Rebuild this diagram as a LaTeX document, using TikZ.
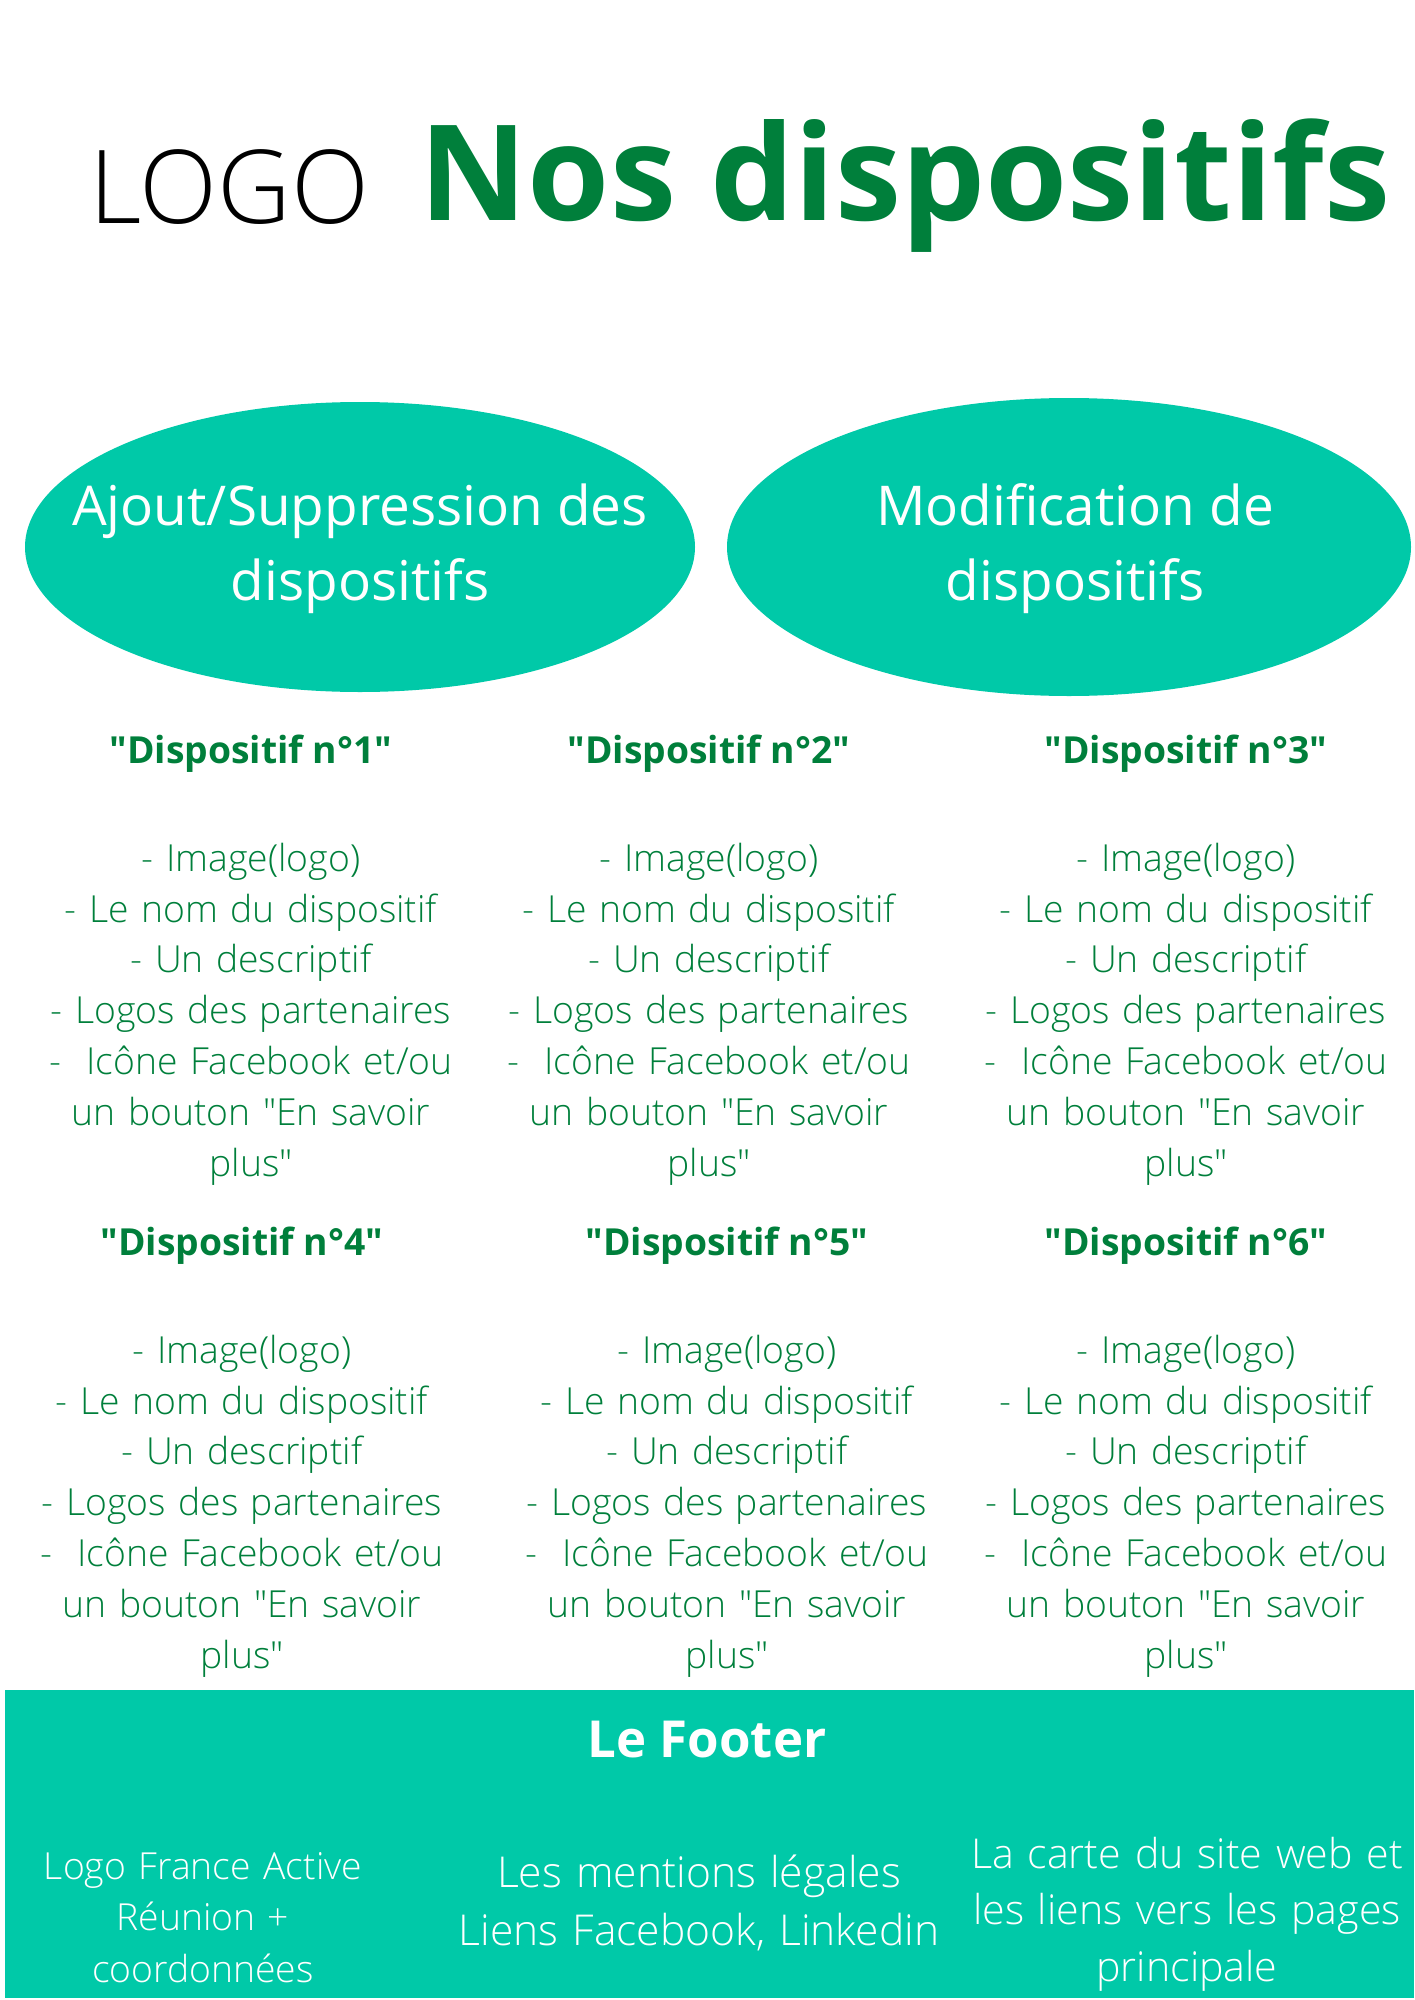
\documentclass[tikz,border=0pt]{standalone}
\usepackage{fontspec}
\setmainfont{Open Sans}
\newfontfamily\thinfont{Open Sans Light}
\definecolor{leafgreen}{RGB}{0,127,59}
\definecolor{lagoon}{RGB}{0,201,168}

\begin{document}
\begin{tikzpicture}[x=0.01cm, y=-0.01cm,
  bubbletext/.style={anchor=base, inner sep=0pt, text=white, align=center,
    font=\fontsize{15.6}{21.3}\selectfont},
  devhead/.style={anchor=base, inner sep=0pt, text=leafgreen,
    font=\bfseries\fontsize{10.6}{14.5}\selectfont},
  devlist/.style={anchor=base, inner sep=0pt, text=leafgreen, text width=5cm,
    align=center, font=\thinfont\fontsize{10.6}{14.5}\selectfont},
  footlist/.style={anchor=base, inner sep=0pt, text=white, text width=4.8cm,
    align=center, font=\thinfont\fontsize{12.1}{16.5}\selectfont}]
\useasboundingbox (0,0) rectangle (1414,2000);

% heading
\node[anchor=base west, inner sep=0pt, font=\thinfont\fontsize{29}{35}\selectfont]
  (logo) at (89,223) {LOGO};
\node[anchor=base west, inner sep=0pt, text=leafgreen,
  font=\bfseries\fontsize{37.8}{45}\selectfont] (title) at (419,220) {Nos dispositifs};

% the two actions
\fill[lagoon] (360,547) ellipse [x radius=335, y radius=145];
\fill[lagoon] (1069,547) ellipse [x radius=342, y radius=149];
\node[bubbletext] (addremove) at (360,600) {Ajout/Suppression des\\dispositifs};
\node[bubbletext] (modify) at (1075,600) {Modification de\\dispositifs};

% the six devices
\foreach \num/\cx/\hy in {1/251/763, 2/709/763, 3/1186/763,
                          4/242/1255, 5/727/1255, 6/1186/1255} {
  \node[devhead] (head\num) at (\cx,\hy) {\textquotedbl Dispositif n°\num\textquotedbl};
  \node[devlist] (list\num) at (\cx,\hy+108)
    {- Image(logo)\\- Le nom du dispositif\\- Un descriptif\\
     - Logos des partenaires\\- \ Icône Facebook et/ou\\un bouton "En savoir\\plus"};
}

% footer
\fill[lagoon] (5,1690) rectangle (1414,1998);
\node[anchor=base, inner sep=0pt, text=white, font=\bfseries\fontsize{14.5}{17}\selectfont]
  (footer) at (707,1757) {Le Footer};
\node[footlist, font=\thinfont\fontsize{10.6}{14.65}\selectfont] (contact) at (203,1879)
  {Logo France Active\\Réunion +\\coordonnées};
\node[footlist] (legal) at (699,1887) {Les mentions légales\\Liens Facebook, Linkedin};
\node[footlist, font=\thinfont\fontsize{11.7}{16.2}\selectfont] (sitemap) at (1187,1868)
  {La carte du site web et\\les liens vers les pages\\principale};
\end{tikzpicture}
\end{document}
